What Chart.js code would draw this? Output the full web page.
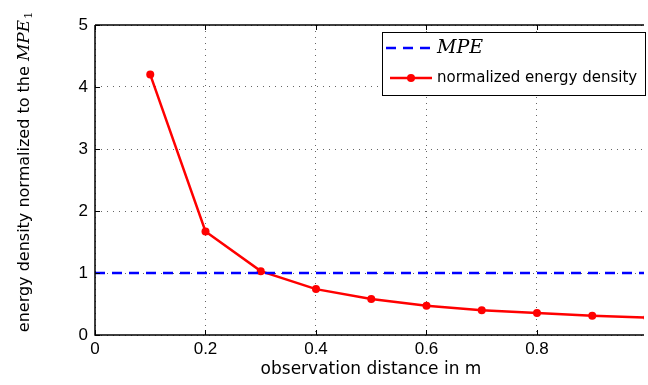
<!DOCTYPE html>
<html><head><meta charset="utf-8">
<script src="https://cdn.jsdelivr.net/npm/chart.js@4"></script>
<style>html,body{margin:0;padding:0;background:#fff;overflow:hidden}#wrap{width:648px;height:385px;position:relative}</style>
</head><body><div id="wrap"><canvas id="c" width="648" height="385"></canvas></div>
<script>
// ---- data ----
const distances = [0.1, 0.2, 0.3, 0.4, 0.5, 0.6, 0.7, 0.8, 0.9, 1.0];
const energyDensity = [4.20, 1.67, 1.03, 0.74, 0.58, 0.47, 0.40, 0.355, 0.31, 0.28];
const mpeX = [0, 1.0];
const mpeLevel = [1, 1];
const xTicks = [0, 0.2, 0.4, 0.6, 0.8];
const yTicks = [0, 1, 2, 3, 4, 5];
const xTitle = 'observation distance in m';
const yTitleMain = 'energy density normalized to the ';
const yTitleMath = 'MPE';
const yTitleSub = '1';
const legendMPE = 'MPE';
const legendEnergy = 'normalized energy density';

const SANS = '"DejaVu Sans", sans-serif';
const TICKF = '"Liberation Sans", Arial, sans-serif';
const SERIF_IT = 'italic 17px "DejaVu Serif", "Liberation Serif", serif';
const SERIF_IT_LEG = 'italic 19px "DejaVu Serif", "Liberation Serif", serif';

const decor = {
  id: 'decor',
  afterDraw(chart) {
    const ctx = chart.ctx, a = chart.chartArea;
    const xs = chart.scales.x, ys = chart.scales.y;
    ctx.save();
    // axes frame
    ctx.strokeStyle = '#000'; ctx.lineWidth = 1.5;
    ctx.beginPath();
    ctx.moveTo(a.left, a.top); ctx.lineTo(a.left, a.bottom); ctx.lineTo(a.right, a.bottom);
    ctx.moveTo(a.left, a.top); ctx.lineTo(a.right, a.top);
    ctx.stroke();
    // inward ticks
    ctx.lineWidth = 1;
    ctx.beginPath();
    yTicks.forEach(v => { const py = Math.round(ys.getPixelForValue(v)) + 0.5; ctx.moveTo(a.left, py); ctx.lineTo(a.left + 5, py); });
    xTicks.forEach(v => { const px = Math.round(xs.getPixelForValue(v)) + 0.5;
      ctx.moveTo(px, a.bottom); ctx.lineTo(px, a.bottom - 5);
      ctx.moveTo(px, a.top); ctx.lineTo(px, a.top + 5); });
    ctx.stroke();
    // x title
    ctx.fillStyle = '#000';
    ctx.font = '17px ' + SANS;
    ctx.textAlign = 'center'; ctx.textBaseline = 'alphabetic';
    ctx.fillText(xTitle, 371, 374);
    // y title (rotated, mixed fonts)
    ctx.save();
    ctx.translate(29, 172);
    ctx.rotate(-Math.PI / 2);
    ctx.textAlign = 'left';
    ctx.font = '16px ' + SANS;
    const w1 = ctx.measureText(yTitleMain).width;
    ctx.font = SERIF_IT;
    const w2 = ctx.measureText(yTitleMath).width;
    ctx.font = '11px "DejaVu Serif", serif';
    const w3 = ctx.measureText(yTitleSub).width;
    let x0 = -(w1 + w2 + w3 + 1) / 2;
    ctx.font = '16px ' + SANS; ctx.fillText(yTitleMain, x0, 0); x0 += w1;
    ctx.font = SERIF_IT; ctx.fillText(yTitleMath, x0, 0); x0 += w2 + 1;
    ctx.font = '11px "DejaVu Serif", serif'; ctx.fillText(yTitleSub, x0, 3);
    ctx.restore();
    // legend
    const lx = 382, ly = 32, lw = 263, lh = 63;
    ctx.fillStyle = '#fff'; ctx.fillRect(lx, ly, lw, lh);
    ctx.strokeStyle = '#000'; ctx.lineWidth = 1; ctx.strokeRect(lx + 0.5, ly + 0.5, lw, lh);
    // MPE entry
    ctx.strokeStyle = '#0000ff'; ctx.lineWidth = 2.5; ctx.setLineDash([10, 7]);
    ctx.beginPath(); ctx.moveTo(386, 48); ctx.lineTo(432, 48); ctx.stroke();
    ctx.setLineDash([]);
    ctx.fillStyle = '#000'; ctx.font = SERIF_IT_LEG; ctx.textAlign = 'left'; ctx.textBaseline = 'middle';
    ctx.fillText(legendMPE, 437, 48);
    // energy entry
    ctx.strokeStyle = '#ff0000'; ctx.lineWidth = 2.5;
    ctx.beginPath(); ctx.moveTo(390, 78); ctx.lineTo(432, 78); ctx.stroke();
    ctx.fillStyle = '#ff0000'; ctx.beginPath(); ctx.arc(411, 78, 4, 0, Math.PI * 2); ctx.fill();
    ctx.fillStyle = '#000'; ctx.font = '15px ' + SANS;
    ctx.fillText(legendEnergy, 437, 78);
    ctx.restore();
  }
};

new Chart(document.getElementById('c'), {
  type: 'line',
  data: {
    datasets: [
      { label: legendMPE, data: mpeX.map((x, i) => ({ x, y: mpeLevel[i] })),
        borderColor: '#0000ff', borderWidth: 2.5, borderDash: [10, 7], pointRadius: 0, fill: false },
      { label: legendEnergy, data: distances.map((x, i) => ({ x, y: energyDensity[i] })),
        borderColor: '#ff0000', backgroundColor: '#ff0000', borderWidth: 2.5,
        pointRadius: 4, pointBackgroundColor: '#ff0000', pointBorderWidth: 0, fill: false, tension: 0 }
    ]
  },
  options: {
    responsive: false, animation: false, devicePixelRatio: 1,
    layout: { padding: { top: 25, right: 0, left: 0, bottom: 0 } },
    plugins: { legend: { display: false }, tooltip: { enabled: false } },
    scales: {
      x: {
        type: 'linear', min: 0, max: 0.9937,
        afterBuildTicks: s => { s.ticks = xTicks.map(v => ({ value: v })); },
        afterFit: s => { s.height = 50; },
        ticks: { font: { family: TICKF, size: 17 }, color: '#000', padding: 4, maxRotation: 0,
          callback: v => (v === 0 ? '0' : v.toFixed(1)) },
        grid: { color: '#666', lineWidth: 1, drawTicks: false },
        border: { display: false, dash: [1, 5] }
      },
      y: {
        type: 'linear', min: 0, max: 5,
        afterBuildTicks: s => { s.ticks = yTicks.map(v => ({ value: v })); },
        afterFit: s => { s.width = 95; },
        ticks: { font: { family: TICKF, size: 17 }, color: '#000', padding: 7 },
        grid: { color: '#666', lineWidth: 1, drawTicks: false },
        border: { display: false, dash: [1, 5] }
      }
    }
  },
  plugins: [decor]
});
</script></body></html>
